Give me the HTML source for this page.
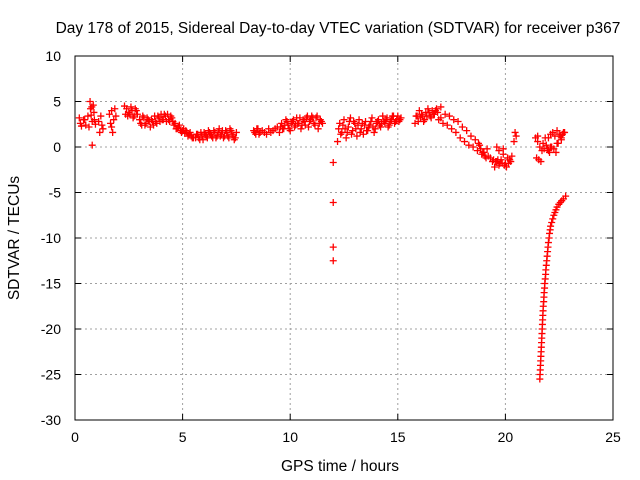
<!DOCTYPE html>
<html><head><meta charset="utf-8"><style>
body{margin:0;background:#fff}
svg{display:block;font-family:"Liberation Sans",sans-serif;font-size:14px}
</style></head><body>
<svg id="chart" width="640" height="480">
<text x="338" y="33" text-anchor="middle" font-size="15.5">Day 178 of 2015, Sidereal Day-to-day VTEC variation (SDTVAR) for receiver p367</text>
<text x="340" y="471" text-anchor="middle" font-size="15.5">GPS time / hours</text>
<text transform="translate(19,238) rotate(-90)" text-anchor="middle" font-size="15.5">SDTVAR / TECUs</text>
<g id="grid"></g><g id="pts"></g>
<rect x="75" y="56" width="538" height="364" fill="none" stroke="#000"/>
</svg>
<script>
const xTicks=[0,5,10,15,20,25];
const yTicks=[10,5,0,-5,-10,-15,-20,-25,-30];
const hours=[0.2,0.3,0.4,0.5,0.6,0.7,0.72,0.75,0.8,0.8,0.85,0.9,0.95,1.1,1.15,1.2,1.3,1.6,1.65,1.7,1.75,1.8,1.85,2.3,2.35,2.4,2.5,2.6,2.7,2.8,2.9,3.0,3.1,3.2,3.3,3.4,3.5,3.6,3.7,3.8,3.9,4.0,4.1,4.2,4.3,4.4,4.5,4.6,4.7,4.8,4.9,5.0,5.1,5.2,5.3,5.4,5.5,5.6,5.7,5.8,5.9,6.0,6.1,6.2,6.3,6.4,6.5,6.6,6.7,6.8,6.9,7.0,7.1,7.2,7.3,7.4,7.5,8.3,8.4,8.5,8.6,8.8,9.0,9.2,9.4,9.5,9.6,9.7,9.8,9.9,10.0,10.1,10.2,10.3,10.4,10.5,10.6,10.7,10.8,10.9,11.0,11.1,11.2,11.3,11.4,11.5,12.0,12.0,12.0,12.0,12.2,12.3,12.4,12.5,12.6,12.7,12.8,12.9,13.0,13.1,13.2,13.3,13.4,13.5,13.6,13.7,13.8,13.9,14.0,14.1,14.2,14.3,14.4,14.5,14.6,14.7,14.8,14.9,15.0,15.1,15.8,15.9,16.0,16.1,16.2,16.3,16.4,16.5,16.6,16.7,16.8,17.0,16.9,17.1,17.3,17.5,17.7,17.9,18.1,18.3,18.5,18.7,18.8,18.9,19.0,19.1,19.2,19.4,19.5,19.6,19.7,19.8,19.9,20.0,20.1,20.2,20.3,19.6,19.7,19.9,20.4,20.45,20.5,21.4,21.5,21.6,21.7,21.8,21.9,22.0,22.1,21.5,22.0,22.1,22.2,22.3,22.4,22.5,22.6,22.7,22.4,22.6,21.6,21.61,21.62,21.63,21.64,21.65,21.66,21.67,21.68,21.69,21.70,21.71,21.72,21.73,21.74,21.75,21.76,21.78,21.79,21.8,21.82,21.83,21.85,21.87,21.88,21.9,21.92,21.94,21.96,21.98,22.0,22.03,22.05,22.08,22.1,22.15,22.2,22.25,22.3,22.35,22.4,22.48,22.55,22.62,22.7,22.8];
const sdtvar=[3.2,2.3,3.0,2.4,3.4,5.0,4.2,3.5,2.8,0.2,4.6,3.0,2.5,2.8,1.6,3.4,2.0,3.6,2.6,4.0,1.6,3.0,4.2,4.5,3.6,4.2,3.8,4.4,3.2,4.2,3.6,3.0,2.4,3.2,2.6,3.0,2.2,2.8,3.4,2.6,3.2,3.6,3.0,3.4,3.6,2.8,3.2,2.4,2.0,2.2,1.8,1.8,1.5,1.6,1.4,1.2,1.0,1.0,1.4,0.8,1.2,1.6,1.2,1.8,1.4,1.0,1.6,1.2,2.0,1.4,1.0,1.8,1.2,2.0,1.4,0.8,1.6,1.8,1.4,2.0,1.6,1.6,2.0,1.8,2.2,1.6,2.6,2.0,3.0,2.4,1.8,2.8,2.2,3.2,2.6,2.0,3.0,2.4,3.4,2.8,3.4,2.6,3.2,2.0,3.0,2.6,-1.7,-6.1,-11.0,-12.5,0.6,2.6,1.6,3.0,1.0,2.2,3.2,1.8,2.6,1.2,3.0,2.0,1.4,2.8,1.8,2.4,3.2,1.6,2.6,3.0,2.2,3.4,2.6,3.2,2.4,3.0,3.4,2.8,3.4,3.0,2.6,3.4,4.0,3.6,2.8,3.8,4.2,3.4,4.0,3.6,4.2,4.4,3.0,2.6,2.4,2.0,1.6,1.0,0.6,0.2,0.0,-0.4,0.2,-0.8,-0.6,-1.2,-1.0,-1.6,-2.2,-1.6,-2.0,-1.4,-0.8,-1.8,-1.2,-1.4,-1.0,0.0,-0.4,-0.2,0.6,1.6,1.2,1.0,0.6,0.0,-0.4,-0.2,0.2,-0.4,0.0,1.2,1.0,1.4,1.6,1.2,1.8,1.4,1.0,1.6,0.4,0.8,-25.5,-25.0,-24.5,-24.0,-23.5,-23.0,-22.5,-22.0,-21.5,-21.0,-20.5,-20.0,-19.5,-19.0,-18.5,-18.0,-17.5,-17.0,-16.5,-16.0,-15.5,-15.0,-14.5,-14.0,-13.5,-13.0,-12.5,-12.0,-11.5,-11.0,-10.5,-10.0,-9.5,-9.1,-8.7,-8.3,-7.9,-7.5,-7.2,-6.9,-6.6,-6.3,-6.1,-5.9,-5.7,-5.4];
const hours2=[0.25,0.45,0.65,0.78,0.88,1.25,1.7,1.9,2.45,2.55,2.65,2.75,2.85,3.05,3.15,3.25,3.35,3.45,3.55,3.65,3.75,3.85,3.95,4.05,4.15,4.25,4.35,4.45,4.55,4.65,4.75,4.85,4.95,5.05,5.15,5.25,5.35,5.45,5.65,5.75,5.85,5.95,6.05,6.15,6.25,6.35,6.45,6.55,6.65,6.75,6.85,6.95,7.05,7.15,7.25,7.35,7.45,8.35,8.45,8.55,8.7,8.9,9.1,9.3,9.55,9.65,9.75,9.85,9.95,10.05,10.15,10.25,10.35,10.45,10.55,10.65,10.75,10.85,10.95,11.05,11.15,11.25,11.35,11.45,12.25,12.35,12.45,12.55,12.65,12.75,12.85,12.95,13.05,13.15,13.25,13.35,13.45,13.55,13.65,13.75,13.85,13.95,14.05,14.15,14.25,14.35,14.45,14.55,14.65,14.75,14.85,14.95,15.05,15.15,15.85,15.95,16.05,16.15,16.25,16.35,16.45,16.55,16.65,16.75,16.85,17.0,17.2,17.4,17.6,17.8,18.0,18.2,18.4,18.6,18.75,18.85,18.95,19.05,19.15,19.3,19.45,19.55,19.65,19.75,19.85,19.95,20.05,20.15,20.25,21.45,21.55,21.65,21.75,21.85,21.95,22.05,22.15,22.25,22.35,22.45,22.55,22.65,22.75];
const sdtvar2=[2.6,3.0,2.2,4.4,3.8,2.4,2.2,3.4,3.4,3.6,4.0,3.4,4.0,2.6,3.4,2.4,3.2,2.8,3.0,2.4,2.8,3.4,2.8,3.0,3.6,2.8,3.0,3.4,2.8,2.6,2.0,2.4,1.6,2.0,1.8,1.2,1.6,1.0,1.4,1.0,1.6,0.8,1.4,1.0,1.6,1.2,1.8,1.0,1.6,1.2,1.8,1.2,1.6,1.0,1.8,1.2,1.0,1.6,2.0,1.4,1.8,1.4,1.6,2.0,2.2,2.0,2.4,2.8,2.0,2.6,3.0,2.4,2.6,3.2,2.4,2.8,3.2,2.2,3.0,3.2,2.4,3.4,2.6,2.8,2.0,1.4,2.4,2.0,1.6,2.8,1.4,2.8,2.0,2.4,1.6,2.6,2.4,1.8,2.2,2.8,2.2,2.0,2.8,2.4,2.6,2.8,3.0,2.2,2.8,3.4,2.6,3.0,2.8,3.2,3.4,2.8,3.2,3.4,3.0,3.4,3.8,3.2,3.6,4.0,3.8,3.2,3.6,3.4,3.0,2.8,2.2,1.8,1.2,0.8,0.4,-0.2,-0.6,-1.0,-0.2,-1.2,-1.4,-1.6,-1.4,-1.8,-1.8,-2.0,-2.2,-1.8,-1.6,-1.2,-1.4,-1.6,0.4,1.0,-0.2,-0.6,0.0,-0.2,-0.6,0.4,1.2,1.4,1.6,1.2,1.4,1.2,1.4];
const NS='http://www.w3.org/2000/svg';
const X0=75,X1=613,Y0=420,Y1=56;
const sx=v=>X0+(v-0)/25*(X1-X0);
const sy=v=>Y0-(v+30)/40*(Y0-Y1);
function mk(tag,attrs,parent){const e=document.createElementNS(NS,tag);for(const k in attrs)e.setAttribute(k,attrs[k]);parent.appendChild(e);return e;}
const grid=document.getElementById('grid');
xTicks.forEach(t=>{const x=sx(t);
 if(t>0&&t<25){const l=mk('line',{x1:x,x2:x,y1:Y0,y2:Y1,stroke:'#a0a0a0','stroke-dasharray':'2,3'},grid);
 
 }
 mk('line',{x1:x,x2:x,y1:Y0,y2:Y0-6,stroke:'#000'},grid);
 mk('line',{x1:x,x2:x,y1:Y1,y2:Y1+6,stroke:'#000'},grid);
 const tx=mk('text',{x:x,y:442,'text-anchor':'middle'},grid);tx.textContent=t;
 
 
});
yTicks.forEach(t=>{const y=sy(t);
 if(t>-30&&t<10){const l=mk('line',{x1:X0,x2:X1,y1:y,y2:y,stroke:'#a0a0a0','stroke-dasharray':'2,3'},grid);
 
 }
 mk('line',{x1:X0,x2:X0+6,y1:y,y2:y,stroke:'#000'},grid);
 mk('line',{x1:X1,x2:X1-6,y1:y,y2:y,stroke:'#000'},grid);
 const tx=mk('text',{x:61,y:y+5,'text-anchor':'end'},grid);tx.textContent=t;
 
 
});
const pts=document.getElementById('pts');
function plot(hs,vs){hs.forEach((h,i)=>{const x=sx(h),y=sy(vs[i]);
 const p=mk('path',{d:`M${x-3.5},${y}H${x+3.5}M${x},${y-3.5}V${y+3.5}`,stroke:'#ff0000','stroke-width':1.3,fill:'none'},pts);
 
 
});}
plot(hours,sdtvar);
plot(hours2,sdtvar2);
</script>
</body></html>
